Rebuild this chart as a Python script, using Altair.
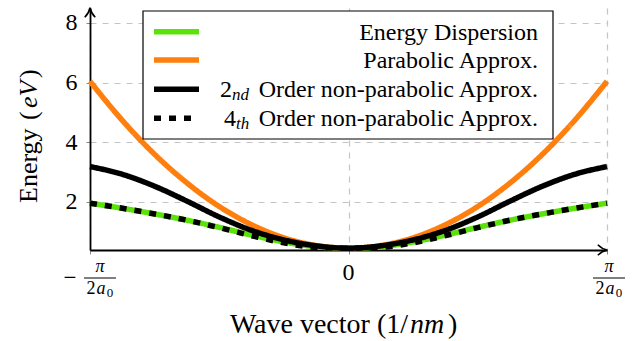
import altair as alt
import pandas as pd

# ---------------- data ----------------
k = [-1, -0.875, -0.75, -0.625, -0.5, -0.375, -0.25, -0.125, 0,
     0.125, 0.25, 0.375, 0.5, 0.625, 0.75, 0.875, 1]
dispersion = [1.95, 1.78, 1.59, 1.38, 1.14, 0.88, 0.65, 0.49, 0.44,
              0.49, 0.65, 0.88, 1.14, 1.38, 1.59, 1.78, 1.95]
parabolic = [6.04, 4.73, 3.59, 2.63, 1.84, 1.23, 0.79, 0.53, 0.44,
             0.53, 0.79, 1.23, 1.84, 2.63, 3.59, 4.73, 6.04]
second_order = [3.18, 2.92, 2.52, 2.02, 1.49, 1.04, 0.72, 0.52, 0.44,
                0.52, 0.72, 1.04, 1.49, 2.02, 2.52, 2.92, 3.18]
fourth_order = [1.95, 1.78, 1.59, 1.38, 1.13, 0.86, 0.62, 0.47, 0.44,
                0.47, 0.62, 0.86, 1.13, 1.38, 1.59, 1.78, 1.95]

series_names = ["Energy Dispersion", "Parabolic Approx.",
                "2nd Order non-parabolic Approx.", "4th Order non-parabolic Approx."]
series_values = [dispersion, parabolic, second_order, fourth_order]
series_colors = ["#5ae20a", "#ff7f0e", "#000000", "#000000"]
series_dash = [[1, 0], [1, 0], [1, 0], [7, 8]]

legend_main = ["Energy Dispersion", "Parabolic Approx.",
               "Order non-parabolic Approx.", "Order non-parabolic Approx."]
legend_num = ["", "", "2", "4"]
legend_sub = ["", "", "nd", "th"]

y_ticks = [2, 4, 6, 8]
x_ticks = [-1, 0, 1]
x_domain = [-1, 1]
y_domain = [0.38, 8.5]

# ---------------- layout ----------------
W, H = 517, 242
PAD = {"left": 90, "top": 8, "right": 30, "bottom": 91}
FONT = "Liberation Serif"


def xpix(v):
    return (v - x_domain[0]) / (x_domain[1] - x_domain[0]) * W


rows = []
for name, vals in zip(series_names, series_values):
    for kk, e in zip(k, vals):
        rows.append({"k": kk, "E": e, "series": name})
df = pd.DataFrame(rows)
one = pd.DataFrame({"a": [0]})

x_enc = alt.X("k:Q", scale=alt.Scale(domain=x_domain, nice=False, zero=False),
              axis=alt.Axis(values=x_ticks, labels=False, title=None, grid=True,
                            gridDash=[6, 6], gridColor="#c4c4c4", gridWidth=1.2,
                            domainColor="black", domainWidth=1.8,
                            tickColor="#888888", tickSize=4, tickWidth=1))
y_enc = alt.Y("E:Q", scale=alt.Scale(domain=y_domain, nice=False, zero=False),
              axis=alt.Axis(values=y_ticks, title=None, grid=True,
                            gridDash=[6, 6], gridColor="#c4c4c4", gridWidth=1.2,
                            domainColor="black", domainWidth=1.8,
                            tickColor="#888888", tickSize=4, tickWidth=1,
                            labelFont=FONT, labelFontSize=24, labelColor="black",
                            labelPadding=9))

layers = []
for i, name in enumerate(series_names):
    layers.append(
        alt.Chart(df).transform_filter(alt.datum.series == name)
        .mark_line(color=series_colors[i], strokeWidth=5.5, strokeDash=series_dash[i],
                   interpolate="monotone", strokeCap="butt")
        .encode(x=x_enc, y=y_enc)
    )


def txt(text, x, y, size, align="center", italic=False, angle=0, baseline="middle"):
    return alt.Chart(one).mark_text(
        text=text, font=FONT, fontSize=size, align=align, baseline=baseline,
        fontStyle="italic" if italic else "normal", angle=angle, color="black"
    ).encode(x=alt.value(x), y=alt.value(y))


def rule(x1, x2, y1, y2, color="black", width=1.0, dash=None):
    kw = dict(color=color, strokeWidth=width, strokeCap="butt")
    if dash:
        kw["strokeDash"] = dash
    return alt.Chart(one).mark_rule(**kw).encode(
        x=alt.value(x1), x2=alt.value(x2), y=alt.value(y1), y2=alt.value(y2))


# axis arrows
up_arrow = "M -1 0.8 C -0.45 0.25 -0.12 -0.3 0 -1 C 0.12 -0.3 0.45 0.25 1 0.8"
right_arrow = "M -0.8 -1 C -0.25 -0.45 0.3 -0.12 1 0 C 0.3 0.12 -0.25 0.45 -0.8 1"
layers.append(alt.Chart(one).mark_point(shape=up_arrow, size=110, filled=False, stroke="black",
                                        strokeWidth=1.6, opacity=1)
              .encode(x=alt.value(0), y=alt.value(5)))
layers.append(alt.Chart(one).mark_point(shape=right_arrow, size=110, filled=False, stroke="black",
                                        strokeWidth=1.6, opacity=1)
              .encode(x=alt.value(W - 5), y=alt.value(H)))

# legend box
LX0, LX1, LY0, LY1 = 53, 463, 3, 131
layers.append(alt.Chart(one).mark_rect(fill="white", stroke="black", strokeWidth=1.2)
              .encode(x=alt.value(LX0), x2=alt.value(LX1), y=alt.value(LY0), y2=alt.value(LY1)))
row_y = [23.7, 52, 81.3, 110.3]
for i in range(4):
    layers.append(rule(64, 109, row_y[i], row_y[i], color=series_colors[i], width=5.5,
                       dash=series_dash[i] if series_dash[i] != [1, 0] else None))
    layers.append(txt(legend_main[i], 448, row_y[i] + 1, 24, align="right"))
    if legend_num[i]:
        numx = 130 if legend_num[i] == "2" else 134
        layers.append(txt(legend_num[i], numx, row_y[i] + 1, 24, align="left"))
        layers.append(txt(legend_sub[i], numx + 12, row_y[i] + 6, 17, align="left", italic=True))

# x tick labels
layers.append(txt("0", xpix(0), 265, 24))
# left: -pi/(2a0)
lx = xpix(-1) + 10
layers.append(txt("\u2212", xpix(-1) - 20, 270, 23))
layers.append(txt("\u03c0", lx, 259, 18, italic=True))
layers.append(rule(lx - 16, lx + 16, 270, 270, width=1))
layers.append(txt("2", lx - 9, 281, 18))
layers.append(txt("a", lx + 1, 281, 18, italic=True))
layers.append(txt("0", lx + 10, 285, 13))
# right: pi/(2a0)
rx = xpix(1) + 2
layers.append(txt("\u03c0", rx, 259, 18, italic=True))
layers.append(rule(rx - 16, rx + 16, 270, 270, width=1))
layers.append(txt("2", rx - 9, 281, 18))
layers.append(txt("a", rx + 1, 281, 18, italic=True))
layers.append(txt("0", rx + 10, 285, 13))

# x title
layers.append(txt("Wave vector (1/", 318, 317, 28, align="right"))
layers.append(txt("nm", 320, 317, 28, align="left", italic=True))
layers.append(txt(")", 358, 317, 28, align="left"))

# y title (rotated)
layers.append(txt("Energy", -61, 195, 26, align="left", angle=270))
layers.append(txt("(", -61, 112, 26, align="left", angle=270))
layers.append(txt("eV", -61, 100, 26, align="left", angle=270, italic=True))
layers.append(txt(")", -61, 70, 26, align="left", angle=270))

chart = alt.layer(*layers).properties(
    width=W, height=H,
    autosize=alt.AutoSizeParams(type="none"),
    padding=PAD,
    background="white",
).configure_view(stroke=None)

chart.save("out.html", embed_options={"renderer": "svg", "actions": False})
